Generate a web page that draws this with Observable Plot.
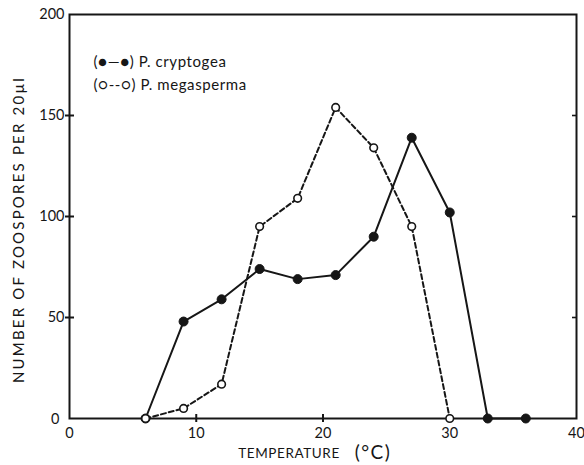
<!DOCTYPE html>
<html>
<head>
<meta charset="utf-8">
<script src="https://cdn.jsdelivr.net/npm/d3@7"></script>
<script src="https://cdn.jsdelivr.net/npm/@observablehq/plot@0.6"></script>
<style>
  html, body { margin: 0; padding: 0; background: #fff; }
  #chart svg { display: block; }
</style>
</head>
<body>
<div id="chart"></div>
<script>
// Temperature (°C) and zoospore counts per 20 µl
const tempsCryptogea = [6, 9, 12, 15, 18, 21, 24, 27, 30, 33, 36];
const valuesCryptogea = [0, 48, 59, 74, 69, 71, 90, 139, 102, 0, 0];
const tempsMegasperma = [6, 9, 12, 15, 18, 21, 24, 27, 30];
const valuesMegasperma = [0, 5, 17, 95, 109, 154, 134, 95, 0];

const xLabelTicks = [0, 10, 20, 30, 40];
const xMarkTicks = [10, 20, 30];
const yLabelTicks = [50, 100, 150, 200];
const yMarkTicks = [50, 100, 150];

const legendLabels = ["(●—●) P. cryptogea", "(○--○) P. megasperma"];
const xTitle = "TEMPERATURE";
const xTitleUnit = "(°C)";
const yTitle = "NUMBER OF ZOOSPORES PER 20µl";

const cryptogea = tempsCryptogea.map((t, i) => ({t, v: valuesCryptogea[i]}));
const megasperma = tempsMegasperma.map((t, i) => ({t, v: valuesMegasperma[i]}));

const ink = "#161616";
const font = "Lato, 'DejaVu Sans', sans-serif";

const W = 584, H = 465;
const mL = 69, mR = 8, mT = 14, mB = 47;
const fw = W - mL - mR, fh = H - mT - mB;

const chart = Plot.plot({
  width: W,
  height: H,
  marginLeft: mL,
  marginRight: mR,
  marginTop: mT,
  marginBottom: mB,
  style: {fontFamily: font, fontSize: "14px", color: ink, background: "#fff"},
  x: {domain: [0, 40]},
  y: {domain: [0, 200]},
  marks: [
    Plot.frame({stroke: ink, strokeWidth: 2}),
    // y axis labels
    Plot.axisY(yLabelTicks, {tickSize: 0, tickPadding: 5, label: null, fontSize: 14.5}),
    Plot.axisY([0], {tickSize: 0, tickPadding: 10, label: null, fontSize: 14.5, dy: 1}),
    // y tick marks: crossing on the left, inward on the right
    Plot.tickY(yMarkTicks, {y: d => d, insetLeft: -4, insetRight: fw - 5, stroke: ink, strokeWidth: 2}),
    Plot.tickY(yMarkTicks, {y: d => d, insetLeft: fw - 4, insetRight: 0, stroke: ink, strokeWidth: 1.6}),
    // x axis labels
    Plot.axisX(xLabelTicks, {tickSize: 0, tickPadding: 9, label: null, fontSize: 14.5}),
    // x tick marks crossing the bottom
    Plot.tickX(xMarkTicks, {x: d => d, insetTop: fh - 4, insetBottom: -4, stroke: ink, strokeWidth: 2}),
    // data
    Plot.line(cryptogea, {x: "t", y: "v", stroke: ink, strokeWidth: 2}),
    Plot.line(megasperma, {x: "t", y: "v", stroke: ink, strokeWidth: 2, strokeDasharray: "5,3"}),
    Plot.dot(cryptogea, {x: "t", y: "v", r: 4.5, fill: ink, stroke: ink, strokeWidth: 1}),
    Plot.dot(megasperma, {x: "t", y: "v", r: 3.8, fill: "#fff", stroke: ink, strokeWidth: 1.6}),
    // legend
    Plot.text([legendLabels[0]], {frameAnchor: "top-left", dx: 24, dy: 48, textAnchor: "start", lineAnchor: "middle", fontSize: 15, fill: ink}),
    Plot.text([legendLabels[1]], {frameAnchor: "top-left", dx: 24, dy: 71, textAnchor: "start", lineAnchor: "middle", fontSize: 15, fill: ink}),
    // axis titles
    Plot.text([yTitle], {frameAnchor: "left", rotate: -90, dx: -50, dy: 13, textAnchor: "middle", lineAnchor: "middle", fontSize: 15, fill: ink}),
    Plot.text([xTitle], {frameAnchor: "bottom", dx: -34, dy: 35, textAnchor: "middle", lineAnchor: "middle", fontSize: 13.5, fill: ink}),
    Plot.text([xTitleUnit], {frameAnchor: "bottom", dx: 50, dy: 34, textAnchor: "middle", lineAnchor: "middle", fontSize: 19, fill: ink})
  ]
});
document.getElementById("chart").append(chart);

// letter spacing (not a Plot text option) applied to the rendered texts
const spacing = new Map([
  [yTitle, "2.2px"],
  [xTitle, "0.6px"],
  [xTitleUnit, "1.5px"],
  [legendLabels[0], "0.6px"],
  [legendLabels[1], "0.6px"]
]);
d3.select(chart).selectAll("text").each(function() {
  const s = spacing.get(this.textContent);
  if (s) this.style.letterSpacing = s;
});
</script>
</body>
</html>
